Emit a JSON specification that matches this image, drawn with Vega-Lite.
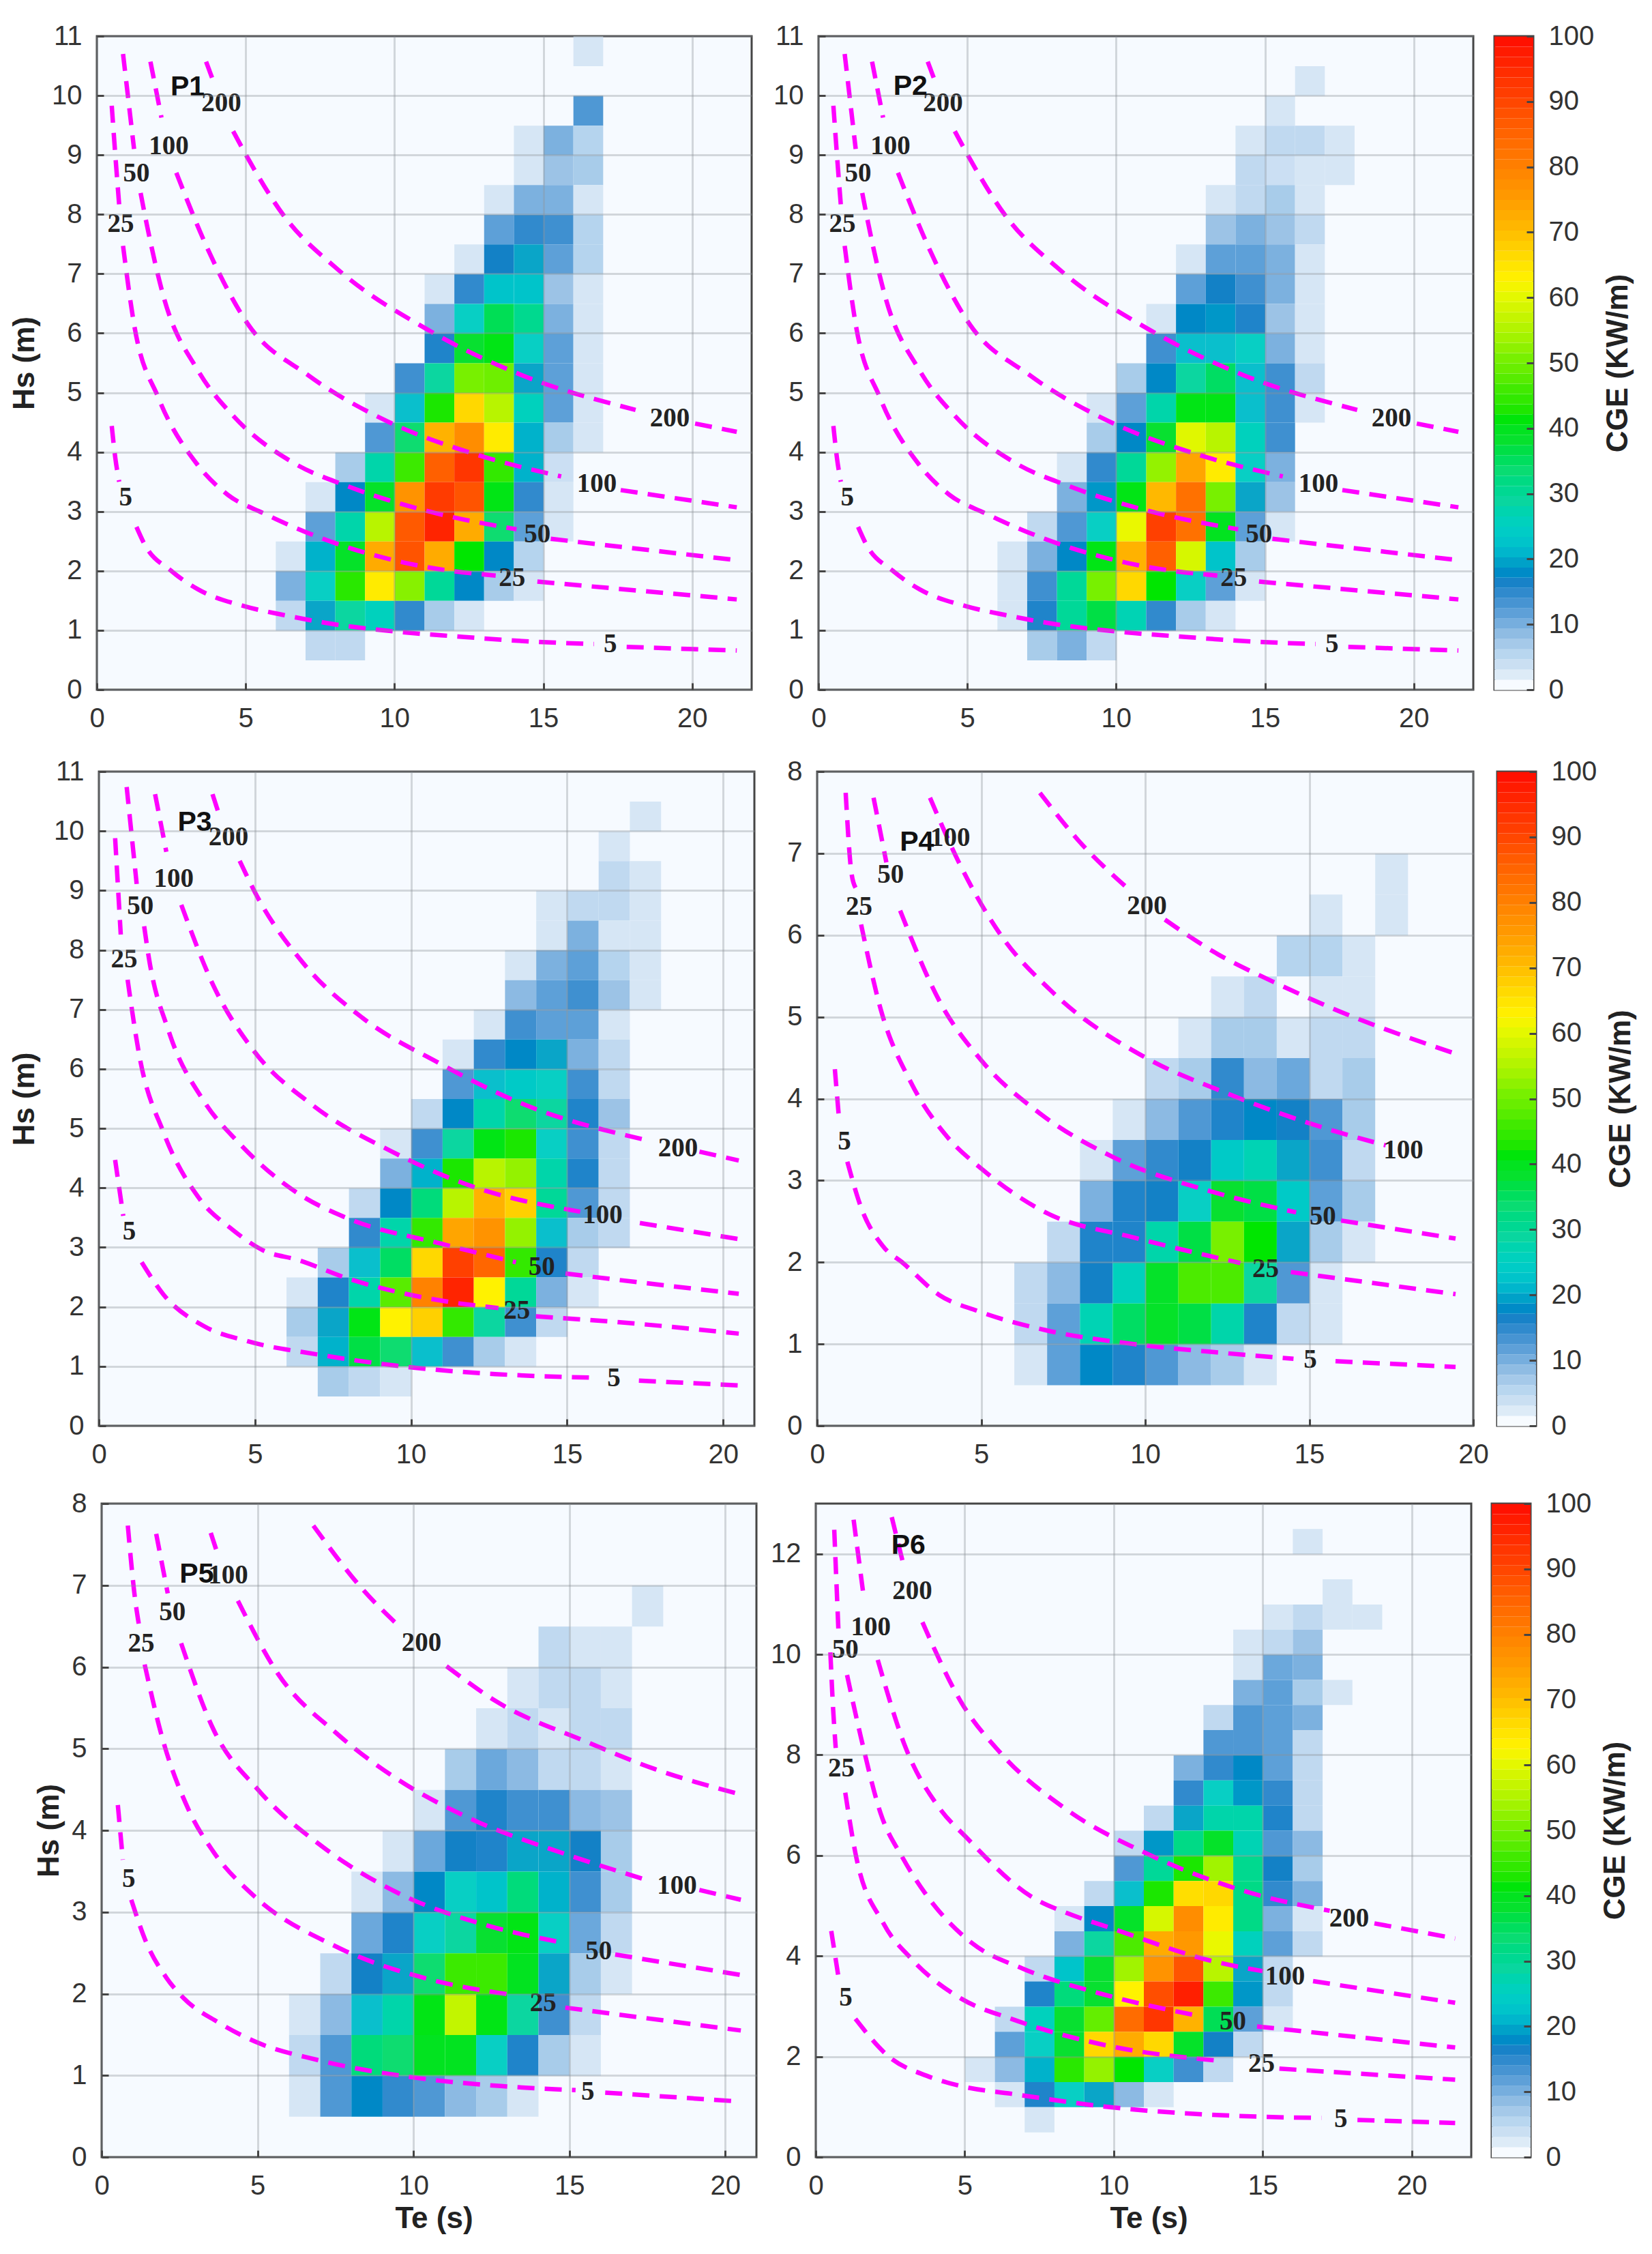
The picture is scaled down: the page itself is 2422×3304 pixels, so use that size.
{
"$schema":"https://vega.github.io/schema/vega-lite/v6.json",
"background":"white",
"padding":{"left":0,"top":31,"right":0,"bottom":0},
"config":{
"font":"Liberation Sans",
"view":{"stroke":"#454545","strokeWidth":3,"fill":"#f6faff"},
"axis":{"labelFont":"Liberation Sans","labelFontSize":40,"labelColor":"#333333","labelPadding":32,"labelOverlap":false,"labelFlush":false,"labelBound":false,"titleFont":"Liberation Sans","titleFontSize":44,"titleFontWeight":"bold","titleColor":"#222222","titlePadding":12,"tickSize":-10,"tickWidth":3,"tickColor":"#454545","domain":false,"grid":true,"gridColor":"#8d9399","gridOpacity":0.35,"gridWidth":3,"format":"d"},
"line":{"color":"#ff00ff","strokeWidth":6.5,"strokeDash":[25,15],"interpolate":"monotone"},
"text":{"font":"Liberation Serif","fontWeight":"bold","fontSize":39,"color":"#222222"}
},
"datasets":{
"p1":[{"te":16,"hs":10.5,"v":2},{"te":16,"hs":9.5,"v":12},{"te":14,"hs":9,"v":2},{"te":15,"hs":9,"v":9},{"te":16,"hs":9,"v":5},{"te":14,"hs":8.5,"v":2},{"te":15,"hs":8.5,"v":7},{"te":16,"hs":8.5,"v":6},{"te":13,"hs":8,"v":2},{"te":14,"hs":8,"v":9},{"te":15,"hs":8,"v":9},{"te":16,"hs":8,"v":2},{"te":13,"hs":7.5,"v":11},{"te":14,"hs":7.5,"v":14},{"te":15,"hs":7.5,"v":13},{"te":16,"hs":7.5,"v":5},{"te":12,"hs":7,"v":2},{"te":13,"hs":7,"v":16},{"te":14,"hs":7,"v":19},{"te":15,"hs":7,"v":11},{"te":16,"hs":7,"v":5},{"te":11,"hs":6.5,"v":2},{"te":12,"hs":6.5,"v":14},{"te":13,"hs":6.5,"v":22},{"te":14,"hs":6.5,"v":22},{"te":15,"hs":6.5,"v":7},{"te":16,"hs":6.5,"v":2},{"te":11,"hs":6,"v":9},{"te":12,"hs":6,"v":24},{"te":13,"hs":6,"v":35},{"te":14,"hs":6,"v":30},{"te":15,"hs":6,"v":9},{"te":16,"hs":6,"v":2},{"te":11,"hs":5.5,"v":15},{"te":12,"hs":5.5,"v":37},{"te":13,"hs":5.5,"v":40},{"te":14,"hs":5.5,"v":24},{"te":15,"hs":5.5,"v":11},{"te":16,"hs":5.5,"v":2},{"te":10,"hs":5,"v":13},{"te":11,"hs":5,"v":28},{"te":12,"hs":5,"v":50},{"te":13,"hs":5,"v":49},{"te":14,"hs":5,"v":19},{"te":15,"hs":5,"v":11},{"te":16,"hs":5,"v":2},{"te":9,"hs":4.5,"v":2},{"te":10,"hs":4.5,"v":21},{"te":11,"hs":4.5,"v":42},{"te":12,"hs":4.5,"v":66},{"te":13,"hs":4.5,"v":55},{"te":14,"hs":4.5,"v":25},{"te":15,"hs":4.5,"v":11},{"te":16,"hs":4.5,"v":2},{"te":9,"hs":4,"v":12},{"te":10,"hs":4,"v":33},{"te":11,"hs":4,"v":71},{"te":12,"hs":4,"v":77},{"te":13,"hs":4,"v":63},{"te":14,"hs":4,"v":20},{"te":15,"hs":4,"v":6},{"te":16,"hs":4,"v":2},{"te":8,"hs":3.5,"v":6},{"te":9,"hs":3.5,"v":27},{"te":10,"hs":3.5,"v":45},{"te":11,"hs":3.5,"v":85},{"te":12,"hs":3.5,"v":92},{"te":13,"hs":3.5,"v":44},{"te":14,"hs":3.5,"v":20},{"te":15,"hs":3.5,"v":3},{"te":7,"hs":3,"v":2},{"te":8,"hs":3,"v":17},{"te":9,"hs":3,"v":38},{"te":10,"hs":3,"v":76},{"te":11,"hs":3,"v":91},{"te":12,"hs":3,"v":87},{"te":13,"hs":3,"v":40},{"te":14,"hs":3,"v":14},{"te":15,"hs":3,"v":2},{"te":7,"hs":2.5,"v":11},{"te":8,"hs":2.5,"v":27},{"te":9,"hs":2.5,"v":55},{"te":10,"hs":2.5,"v":86},{"te":11,"hs":2.5,"v":95},{"te":12,"hs":2.5,"v":72},{"te":13,"hs":2.5,"v":33},{"te":14,"hs":2.5,"v":11},{"te":15,"hs":2.5,"v":2},{"te":6,"hs":2,"v":2},{"te":7,"hs":2,"v":20},{"te":8,"hs":2,"v":38},{"te":9,"hs":2,"v":72},{"te":10,"hs":2,"v":87},{"te":11,"hs":2,"v":72},{"te":12,"hs":2,"v":41},{"te":13,"hs":2,"v":17},{"te":14,"hs":2,"v":5},{"te":6,"hs":1.5,"v":9},{"te":7,"hs":1.5,"v":24},{"te":8,"hs":1.5,"v":43},{"te":9,"hs":1.5,"v":63},{"te":10,"hs":1.5,"v":51},{"te":11,"hs":1.5,"v":29},{"te":12,"hs":1.5,"v":17},{"te":13,"hs":1.5,"v":6},{"te":14,"hs":1.5,"v":2},{"te":6,"hs":1,"v":4},{"te":7,"hs":1,"v":19},{"te":8,"hs":1,"v":28},{"te":9,"hs":1,"v":25},{"te":10,"hs":1,"v":14},{"te":11,"hs":1,"v":6},{"te":12,"hs":1,"v":2},{"te":7,"hs":0.5,"v":4},{"te":8,"hs":0.5,"v":4}],
"p2":[{"te":16,"hs":10,"v":2},{"te":15,"hs":9.5,"v":2},{"te":14,"hs":9,"v":2},{"te":15,"hs":9,"v":4},{"te":16,"hs":9,"v":4},{"te":17,"hs":9,"v":2},{"te":14,"hs":8.5,"v":4},{"te":15,"hs":8.5,"v":3},{"te":16,"hs":8.5,"v":2},{"te":17,"hs":8.5,"v":2},{"te":13,"hs":8,"v":2},{"te":14,"hs":8,"v":4},{"te":15,"hs":8,"v":6},{"te":16,"hs":8,"v":2},{"te":13,"hs":7.5,"v":7},{"te":14,"hs":7.5,"v":9},{"te":15,"hs":7.5,"v":7},{"te":16,"hs":7.5,"v":4},{"te":12,"hs":7,"v":2},{"te":13,"hs":7,"v":11},{"te":14,"hs":7,"v":11},{"te":15,"hs":7,"v":9},{"te":16,"hs":7,"v":2},{"te":12,"hs":6.5,"v":11},{"te":13,"hs":6.5,"v":16},{"te":14,"hs":6.5,"v":13},{"te":15,"hs":6.5,"v":9},{"te":16,"hs":6.5,"v":2},{"te":11,"hs":6,"v":2},{"te":12,"hs":6,"v":17},{"te":13,"hs":6,"v":18},{"te":14,"hs":6,"v":15},{"te":15,"hs":6,"v":7},{"te":16,"hs":6,"v":2},{"te":11,"hs":5.5,"v":13},{"te":12,"hs":5.5,"v":21},{"te":13,"hs":5.5,"v":21},{"te":14,"hs":5.5,"v":24},{"te":15,"hs":5.5,"v":9},{"te":16,"hs":5.5,"v":2},{"te":10,"hs":5,"v":6},{"te":11,"hs":5,"v":17},{"te":12,"hs":5,"v":28},{"te":13,"hs":5,"v":34},{"te":14,"hs":5,"v":21},{"te":15,"hs":5,"v":13},{"te":16,"hs":5,"v":4},{"te":9,"hs":4.5,"v":2},{"te":10,"hs":4.5,"v":11},{"te":11,"hs":4.5,"v":27},{"te":12,"hs":4.5,"v":40},{"te":13,"hs":4.5,"v":40},{"te":14,"hs":4.5,"v":21},{"te":15,"hs":4.5,"v":13},{"te":16,"hs":4.5,"v":2},{"te":9,"hs":4,"v":6},{"te":10,"hs":4,"v":17},{"te":11,"hs":4,"v":37},{"te":12,"hs":4,"v":59},{"te":13,"hs":4,"v":55},{"te":14,"hs":4,"v":25},{"te":15,"hs":4,"v":13},{"te":8,"hs":3.5,"v":2},{"te":9,"hs":3.5,"v":14},{"te":10,"hs":3.5,"v":29},{"te":11,"hs":3.5,"v":52},{"te":12,"hs":3.5,"v":73},{"te":13,"hs":3.5,"v":63},{"te":14,"hs":3.5,"v":24},{"te":15,"hs":3.5,"v":9},{"te":8,"hs":3,"v":9},{"te":9,"hs":3,"v":18},{"te":10,"hs":3,"v":40},{"te":11,"hs":3,"v":70},{"te":12,"hs":3,"v":82},{"te":13,"hs":3,"v":50},{"te":14,"hs":3,"v":19},{"te":15,"hs":3,"v":7},{"te":7,"hs":2.5,"v":4},{"te":8,"hs":2.5,"v":12},{"te":9,"hs":2.5,"v":24},{"te":10,"hs":2.5,"v":60},{"te":11,"hs":2.5,"v":90},{"te":12,"hs":2.5,"v":82},{"te":13,"hs":2.5,"v":39},{"te":14,"hs":2.5,"v":11},{"te":15,"hs":2.5,"v":2},{"te":6,"hs":2,"v":2},{"te":7,"hs":2,"v":9},{"te":8,"hs":2,"v":17},{"te":9,"hs":2,"v":40},{"te":10,"hs":2,"v":71},{"te":11,"hs":2,"v":85},{"te":12,"hs":2,"v":58},{"te":13,"hs":2,"v":22},{"te":14,"hs":2,"v":6},{"te":6,"hs":1.5,"v":2},{"te":7,"hs":1.5,"v":13},{"te":8,"hs":1.5,"v":29},{"te":9,"hs":1.5,"v":50},{"te":10,"hs":1.5,"v":66},{"te":11,"hs":1.5,"v":41},{"te":12,"hs":1.5,"v":24},{"te":13,"hs":1.5,"v":11},{"te":14,"hs":1.5,"v":2},{"te":6,"hs":1,"v":2},{"te":7,"hs":1,"v":15},{"te":8,"hs":1,"v":29},{"te":9,"hs":1,"v":36},{"te":10,"hs":1,"v":26},{"te":11,"hs":1,"v":14},{"te":12,"hs":1,"v":6},{"te":13,"hs":1,"v":2},{"te":7,"hs":0.5,"v":6},{"te":8,"hs":0.5,"v":9},{"te":9,"hs":0.5,"v":4}],
"p3":[{"te":17,"hs":10,"v":2},{"te":16,"hs":9.5,"v":2},{"te":16,"hs":9,"v":4},{"te":17,"hs":9,"v":2},{"te":14,"hs":8.5,"v":2},{"te":15,"hs":8.5,"v":4},{"te":16,"hs":8.5,"v":4},{"te":17,"hs":8.5,"v":2},{"te":14,"hs":8,"v":2},{"te":15,"hs":8,"v":9},{"te":16,"hs":8,"v":2},{"te":17,"hs":8,"v":2},{"te":13,"hs":7.5,"v":2},{"te":14,"hs":7.5,"v":9},{"te":15,"hs":7.5,"v":11},{"te":16,"hs":7.5,"v":5},{"te":17,"hs":7.5,"v":2},{"te":13,"hs":7,"v":8},{"te":14,"hs":7,"v":11},{"te":15,"hs":7,"v":13},{"te":16,"hs":7,"v":7},{"te":17,"hs":7,"v":2},{"te":12,"hs":6.5,"v":2},{"te":13,"hs":6.5,"v":13},{"te":14,"hs":6.5,"v":11},{"te":15,"hs":6.5,"v":11},{"te":16,"hs":6.5,"v":2},{"te":11,"hs":6,"v":2},{"te":12,"hs":6,"v":14},{"te":13,"hs":6,"v":17},{"te":14,"hs":6,"v":19},{"te":15,"hs":6,"v":9},{"te":16,"hs":6,"v":4},{"te":11,"hs":5.5,"v":12},{"te":12,"hs":5.5,"v":21},{"te":13,"hs":5.5,"v":23},{"te":14,"hs":5.5,"v":24},{"te":15,"hs":5.5,"v":13},{"te":16,"hs":5.5,"v":4},{"te":10,"hs":5,"v":4},{"te":11,"hs":5,"v":17},{"te":12,"hs":5,"v":27},{"te":13,"hs":5,"v":33},{"te":14,"hs":5,"v":28},{"te":15,"hs":5,"v":15},{"te":16,"hs":5,"v":7},{"te":9,"hs":4.5,"v":2},{"te":10,"hs":4.5,"v":13},{"te":11,"hs":4.5,"v":28},{"te":12,"hs":4.5,"v":40},{"te":13,"hs":4.5,"v":42},{"te":14,"hs":4.5,"v":24},{"te":15,"hs":4.5,"v":13},{"te":16,"hs":4.5,"v":4},{"te":9,"hs":4,"v":9},{"te":10,"hs":4,"v":20},{"te":11,"hs":4,"v":42},{"te":12,"hs":4,"v":55},{"te":13,"hs":4,"v":52},{"te":14,"hs":4,"v":27},{"te":15,"hs":4,"v":15},{"te":16,"hs":4,"v":4},{"te":8,"hs":3.5,"v":4},{"te":9,"hs":3.5,"v":17},{"te":10,"hs":3.5,"v":32},{"te":11,"hs":3.5,"v":55},{"te":12,"hs":3.5,"v":71},{"te":13,"hs":3.5,"v":67},{"te":14,"hs":3.5,"v":29},{"te":15,"hs":3.5,"v":12},{"te":16,"hs":3.5,"v":4},{"te":8,"hs":3,"v":14},{"te":9,"hs":3,"v":27},{"te":10,"hs":3,"v":44},{"te":11,"hs":3,"v":73},{"te":12,"hs":3,"v":76},{"te":13,"hs":3,"v":52},{"te":14,"hs":3,"v":21},{"te":15,"hs":3,"v":6},{"te":16,"hs":3,"v":4},{"te":7,"hs":2.5,"v":6},{"te":8,"hs":2.5,"v":21},{"te":9,"hs":2.5,"v":34},{"te":10,"hs":2.5,"v":66},{"te":11,"hs":2.5,"v":90},{"te":12,"hs":2.5,"v":84},{"te":13,"hs":2.5,"v":44},{"te":14,"hs":2.5,"v":15},{"te":15,"hs":2.5,"v":4},{"te":6,"hs":2,"v":2},{"te":7,"hs":2,"v":15},{"te":8,"hs":2,"v":27},{"te":9,"hs":2,"v":47},{"te":10,"hs":2,"v":79},{"te":11,"hs":2,"v":95},{"te":12,"hs":2,"v":62},{"te":13,"hs":2,"v":29},{"te":14,"hs":2,"v":9},{"te":15,"hs":2,"v":2},{"te":6,"hs":1.5,"v":6},{"te":7,"hs":1.5,"v":19},{"te":8,"hs":1.5,"v":40},{"te":9,"hs":1.5,"v":62},{"te":10,"hs":1.5,"v":67},{"te":11,"hs":1.5,"v":44},{"te":12,"hs":1.5,"v":28},{"te":13,"hs":1.5,"v":13},{"te":14,"hs":1.5,"v":4},{"te":6,"hs":1,"v":4},{"te":7,"hs":1,"v":20},{"te":8,"hs":1,"v":36},{"te":9,"hs":1,"v":33},{"te":10,"hs":1,"v":21},{"te":11,"hs":1,"v":13},{"te":12,"hs":1,"v":6},{"te":13,"hs":1,"v":2},{"te":7,"hs":0.5,"v":6},{"te":8,"hs":0.5,"v":4},{"te":9,"hs":0.5,"v":2}],
"p4":[{"te":17,"hs":6.5,"v":2},{"te":15,"hs":6,"v":2},{"te":17,"hs":6,"v":2},{"te":14,"hs":5.5,"v":5},{"te":15,"hs":5.5,"v":5},{"te":16,"hs":5.5,"v":2},{"te":12,"hs":5,"v":2},{"te":13,"hs":5,"v":4},{"te":15,"hs":5,"v":2},{"te":16,"hs":5,"v":2},{"te":11,"hs":4.5,"v":2},{"te":12,"hs":4.5,"v":6},{"te":13,"hs":4.5,"v":6},{"te":14,"hs":4.5,"v":2},{"te":15,"hs":4.5,"v":4},{"te":16,"hs":4.5,"v":4},{"te":10,"hs":4,"v":4},{"te":11,"hs":4,"v":6},{"te":12,"hs":4,"v":14},{"te":13,"hs":4,"v":8},{"te":14,"hs":4,"v":10},{"te":15,"hs":4,"v":4},{"te":16,"hs":4,"v":6},{"te":9,"hs":3.5,"v":2},{"te":10,"hs":3.5,"v":8},{"te":11,"hs":3.5,"v":12},{"te":12,"hs":3.5,"v":15},{"te":13,"hs":3.5,"v":17},{"te":14,"hs":3.5,"v":16},{"te":15,"hs":3.5,"v":12},{"te":16,"hs":3.5,"v":6},{"te":8,"hs":3,"v":2},{"te":9,"hs":3,"v":11},{"te":10,"hs":3,"v":14},{"te":11,"hs":3,"v":16},{"te":12,"hs":3,"v":23},{"te":13,"hs":3,"v":26},{"te":14,"hs":3,"v":19},{"te":15,"hs":3,"v":13},{"te":16,"hs":3,"v":4},{"te":8,"hs":2.5,"v":9},{"te":9,"hs":2.5,"v":15},{"te":10,"hs":2.5,"v":16},{"te":11,"hs":2.5,"v":24},{"te":12,"hs":2.5,"v":37},{"te":13,"hs":2.5,"v":36},{"te":14,"hs":2.5,"v":23},{"te":15,"hs":2.5,"v":11},{"te":16,"hs":2.5,"v":6},{"te":7,"hs":2,"v":4},{"te":8,"hs":2,"v":15},{"te":9,"hs":2,"v":15},{"te":10,"hs":2,"v":27},{"te":11,"hs":2,"v":36},{"te":12,"hs":2,"v":50},{"te":13,"hs":2,"v":41},{"te":14,"hs":2,"v":19},{"te":15,"hs":2,"v":6},{"te":16,"hs":2,"v":2},{"te":6,"hs":1.5,"v":4},{"te":7,"hs":1.5,"v":8},{"te":8,"hs":1.5,"v":16},{"te":9,"hs":1.5,"v":25},{"te":10,"hs":1.5,"v":38},{"te":11,"hs":1.5,"v":46},{"te":12,"hs":1.5,"v":46},{"te":13,"hs":1.5,"v":28},{"te":14,"hs":1.5,"v":12},{"te":15,"hs":1.5,"v":2},{"te":6,"hs":1,"v":4},{"te":7,"hs":1,"v":11},{"te":8,"hs":1,"v":26},{"te":9,"hs":1,"v":34},{"te":10,"hs":1,"v":38},{"te":11,"hs":1,"v":36},{"te":12,"hs":1,"v":27},{"te":13,"hs":1,"v":15},{"te":14,"hs":1,"v":4},{"te":15,"hs":1,"v":2},{"te":6,"hs":0.5,"v":2},{"te":7,"hs":0.5,"v":11},{"te":8,"hs":0.5,"v":17},{"te":9,"hs":0.5,"v":15},{"te":10,"hs":0.5,"v":12},{"te":11,"hs":0.5,"v":8},{"te":12,"hs":0.5,"v":6},{"te":13,"hs":0.5,"v":2}],
"p5":[{"te":17,"hs":6.5,"v":2},{"te":14,"hs":6,"v":4},{"te":15,"hs":6,"v":2},{"te":16,"hs":6,"v":2},{"te":13,"hs":5.5,"v":2},{"te":14,"hs":5.5,"v":4},{"te":15,"hs":5.5,"v":4},{"te":16,"hs":5.5,"v":2},{"te":12,"hs":5,"v":2},{"te":13,"hs":5,"v":4},{"te":14,"hs":5,"v":2},{"te":15,"hs":5,"v":4},{"te":16,"hs":5,"v":4},{"te":11,"hs":4.5,"v":6},{"te":12,"hs":4.5,"v":10},{"te":13,"hs":4.5,"v":8},{"te":14,"hs":4.5,"v":4},{"te":15,"hs":4.5,"v":4},{"te":16,"hs":4.5,"v":2},{"te":10,"hs":4,"v":2},{"te":11,"hs":4,"v":12},{"te":12,"hs":4,"v":15},{"te":13,"hs":4,"v":13},{"te":14,"hs":4,"v":13},{"te":15,"hs":4,"v":8},{"te":16,"hs":4,"v":7},{"te":9,"hs":3.5,"v":2},{"te":10,"hs":3.5,"v":10},{"te":11,"hs":3.5,"v":16},{"te":12,"hs":3.5,"v":15},{"te":13,"hs":3.5,"v":19},{"te":14,"hs":3.5,"v":19},{"te":15,"hs":3.5,"v":16},{"te":16,"hs":3.5,"v":6},{"te":8,"hs":3,"v":2},{"te":9,"hs":3,"v":8},{"te":10,"hs":3,"v":17},{"te":11,"hs":3,"v":24},{"te":12,"hs":3,"v":22},{"te":13,"hs":3,"v":32},{"te":14,"hs":3,"v":20},{"te":15,"hs":3,"v":13},{"te":16,"hs":3,"v":6},{"te":8,"hs":2.5,"v":10},{"te":9,"hs":2.5,"v":15},{"te":10,"hs":2.5,"v":24},{"te":11,"hs":2.5,"v":28},{"te":12,"hs":2.5,"v":37},{"te":13,"hs":2.5,"v":40},{"te":14,"hs":2.5,"v":24},{"te":15,"hs":2.5,"v":10},{"te":16,"hs":2.5,"v":4},{"te":7,"hs":2,"v":4},{"te":8,"hs":2,"v":16},{"te":9,"hs":2,"v":19},{"te":10,"hs":2,"v":33},{"te":11,"hs":2,"v":45},{"te":12,"hs":2,"v":45},{"te":13,"hs":2,"v":39},{"te":14,"hs":2,"v":19},{"te":15,"hs":2,"v":6},{"te":16,"hs":2,"v":2},{"te":6,"hs":1.5,"v":2},{"te":7,"hs":1.5,"v":8},{"te":8,"hs":1.5,"v":21},{"te":9,"hs":1.5,"v":27},{"te":10,"hs":1.5,"v":40},{"te":11,"hs":1.5,"v":56},{"te":12,"hs":1.5,"v":40},{"te":13,"hs":1.5,"v":28},{"te":14,"hs":1.5,"v":13},{"te":15,"hs":1.5,"v":4},{"te":6,"hs":1,"v":4},{"te":7,"hs":1,"v":12},{"te":8,"hs":1,"v":32},{"te":9,"hs":1,"v":33},{"te":10,"hs":1,"v":39},{"te":11,"hs":1,"v":39},{"te":12,"hs":1,"v":24},{"te":13,"hs":1,"v":15},{"te":14,"hs":1,"v":6},{"te":15,"hs":1,"v":2},{"te":6,"hs":0.5,"v":2},{"te":7,"hs":0.5,"v":12},{"te":8,"hs":0.5,"v":17},{"te":9,"hs":0.5,"v":14},{"te":10,"hs":0.5,"v":12},{"te":11,"hs":0.5,"v":8},{"te":12,"hs":0.5,"v":6},{"te":13,"hs":0.5,"v":2}],
"p6":[{"te":16,"hs":12,"v":2},{"te":17,"hs":11,"v":2},{"te":15,"hs":10.5,"v":2},{"te":16,"hs":10.5,"v":4},{"te":17,"hs":10.5,"v":2},{"te":18,"hs":10.5,"v":2},{"te":14,"hs":10,"v":2},{"te":15,"hs":10,"v":4},{"te":16,"hs":10,"v":7},{"te":14,"hs":9.5,"v":2},{"te":15,"hs":9.5,"v":10},{"te":16,"hs":9.5,"v":9},{"te":14,"hs":9,"v":9},{"te":15,"hs":9,"v":11},{"te":16,"hs":9,"v":6},{"te":17,"hs":9,"v":2},{"te":13,"hs":8.5,"v":4},{"te":14,"hs":8.5,"v":12},{"te":15,"hs":8.5,"v":11},{"te":16,"hs":8.5,"v":9},{"te":13,"hs":8,"v":12},{"te":14,"hs":8,"v":12},{"te":15,"hs":8,"v":11},{"te":16,"hs":8,"v":4},{"te":12,"hs":7.5,"v":9},{"te":13,"hs":7.5,"v":14},{"te":14,"hs":7.5,"v":17},{"te":15,"hs":7.5,"v":11},{"te":16,"hs":7.5,"v":4},{"te":12,"hs":7,"v":14},{"te":13,"hs":7,"v":24},{"te":14,"hs":7,"v":18},{"te":15,"hs":7,"v":14},{"te":16,"hs":7,"v":4},{"te":11,"hs":6.5,"v":4},{"te":12,"hs":6.5,"v":19},{"te":13,"hs":6.5,"v":27},{"te":14,"hs":6.5,"v":27},{"te":15,"hs":6.5,"v":15},{"te":16,"hs":6.5,"v":4},{"te":10,"hs":6,"v":4},{"te":11,"hs":6,"v":18},{"te":12,"hs":6,"v":31},{"te":13,"hs":6,"v":38},{"te":14,"hs":6,"v":26},{"te":15,"hs":6,"v":12},{"te":16,"hs":6,"v":8},{"te":10,"hs":5.5,"v":12},{"te":11,"hs":5.5,"v":29},{"te":12,"hs":5.5,"v":42},{"te":13,"hs":5.5,"v":53},{"te":14,"hs":5.5,"v":30},{"te":15,"hs":5.5,"v":16},{"te":16,"hs":5.5,"v":6},{"te":9,"hs":5,"v":4},{"te":10,"hs":5,"v":21},{"te":11,"hs":5,"v":42},{"te":12,"hs":5,"v":65},{"te":13,"hs":5,"v":66},{"te":14,"hs":5,"v":31},{"te":15,"hs":5,"v":14},{"te":16,"hs":5,"v":9},{"te":8,"hs":4.5,"v":2},{"te":9,"hs":4.5,"v":17},{"te":10,"hs":4.5,"v":38},{"te":11,"hs":4.5,"v":58},{"te":12,"hs":4.5,"v":77},{"te":13,"hs":4.5,"v":63},{"te":14,"hs":4.5,"v":31},{"te":15,"hs":4.5,"v":9},{"te":16,"hs":4.5,"v":2},{"te":8,"hs":4,"v":9},{"te":9,"hs":4,"v":28},{"te":10,"hs":4,"v":46},{"te":11,"hs":4,"v":72},{"te":12,"hs":4,"v":75},{"te":13,"hs":4,"v":60},{"te":14,"hs":4,"v":25},{"te":15,"hs":4,"v":11},{"te":16,"hs":4,"v":4},{"te":7,"hs":3.5,"v":4},{"te":8,"hs":3.5,"v":22},{"te":9,"hs":3.5,"v":37},{"te":10,"hs":3.5,"v":53},{"te":11,"hs":3.5,"v":76},{"te":12,"hs":3.5,"v":87},{"te":13,"hs":3.5,"v":55},{"te":14,"hs":3.5,"v":19},{"te":15,"hs":3.5,"v":4},{"te":7,"hs":3,"v":15},{"te":8,"hs":3,"v":32},{"te":9,"hs":3,"v":37},{"te":10,"hs":3,"v":62},{"te":11,"hs":3,"v":88},{"te":12,"hs":3,"v":96},{"te":13,"hs":3,"v":45},{"te":14,"hs":3,"v":18},{"te":15,"hs":3,"v":4},{"te":6,"hs":2.5,"v":4},{"te":7,"hs":2.5,"v":25},{"te":8,"hs":2.5,"v":37},{"te":9,"hs":2.5,"v":48},{"te":10,"hs":2.5,"v":83},{"te":11,"hs":2.5,"v":92},{"te":12,"hs":2.5,"v":71},{"te":13,"hs":2.5,"v":35},{"te":14,"hs":2.5,"v":11},{"te":15,"hs":2.5,"v":2},{"te":6,"hs":2,"v":11},{"te":7,"hs":2,"v":24},{"te":8,"hs":2,"v":37},{"te":9,"hs":2,"v":66},{"te":10,"hs":2,"v":72},{"te":11,"hs":2,"v":66},{"te":12,"hs":2,"v":38},{"te":13,"hs":2,"v":16},{"te":14,"hs":2,"v":4},{"te":5,"hs":1.5,"v":2},{"te":6,"hs":1.5,"v":8},{"te":7,"hs":1.5,"v":20},{"te":8,"hs":1.5,"v":43},{"te":9,"hs":1.5,"v":52},{"te":10,"hs":1.5,"v":41},{"te":11,"hs":1.5,"v":24},{"te":12,"hs":1.5,"v":13},{"te":13,"hs":1.5,"v":4},{"te":6,"hs":1,"v":2},{"te":7,"hs":1,"v":15},{"te":8,"hs":1,"v":24},{"te":9,"hs":1,"v":19},{"te":10,"hs":1,"v":8},{"te":11,"hs":1,"v":2},{"te":7,"hs":0.5,"v":2}],
"cb":[{"v":0},{"v":1.5625},{"v":3.125},{"v":4.6875},{"v":6.25},{"v":7.8125},{"v":9.375},{"v":10.9375},{"v":12.5},{"v":14.0625},{"v":15.625},{"v":17.1875},{"v":18.75},{"v":20.3125},{"v":21.875},{"v":23.4375},{"v":25},{"v":26.5625},{"v":28.125},{"v":29.6875},{"v":31.25},{"v":32.8125},{"v":34.375},{"v":35.9375},{"v":37.5},{"v":39.0625},{"v":40.625},{"v":42.1875},{"v":43.75},{"v":45.3125},{"v":46.875},{"v":48.4375},{"v":50},{"v":51.5625},{"v":53.125},{"v":54.6875},{"v":56.25},{"v":57.8125},{"v":59.375},{"v":60.9375},{"v":62.5},{"v":64.0625},{"v":65.625},{"v":67.1875},{"v":68.75},{"v":70.3125},{"v":71.875},{"v":73.4375},{"v":75},{"v":76.5625},{"v":78.125},{"v":79.6875},{"v":81.25},{"v":82.8125},{"v":84.375},{"v":85.9375},{"v":87.5},{"v":89.0625},{"v":90.625},{"v":92.1875},{"v":93.75},{"v":95.3125},{"v":96.875},{"v":98.4375}],
"c12":[{"c":"5a","te":0.5,"hs":4.44},{"c":"5a","te":0.62,"hs":3.9},{"c":"5a","te":0.75,"hs":3.5},{"c":"5b","te":1.33,"hs":2.74},{"c":"5b","te":1.6,"hs":2.45},{"c":"5b","te":2.5,"hs":2},{"c":"5b","te":3.4,"hs":1.69},{"c":"5b","te":5,"hs":1.4},{"c":"5b","te":6.25,"hs":1.26},{"c":"5b","te":8,"hs":1.1},{"c":"5b","te":10,"hs":0.98},{"c":"5b","te":12,"hs":0.9},{"c":"5b","te":15,"hs":0.8},{"c":"5b","te":16.7,"hs":0.77},{"c":"5c","te":17.8,"hs":0.72},{"c":"5c","te":21.5,"hs":0.66},
{"c":"25a","te":0.5,"hs":9.83},{"c":"25a","te":0.62,"hs":9},{"c":"25a","te":0.75,"hs":8.16},{"c":"25b","te":0.88,"hs":7.47},{"c":"25b","te":1.25,"hs":6.15},{"c":"25b","te":2.08,"hs":4.9},{"c":"25b","te":3.33,"hs":3.82},{"c":"25b","te":4.4,"hs":3.28},{"c":"25b","te":5.6,"hs":2.97},{"c":"25b","te":7.6,"hs":2.54},{"c":"25b","te":10.9,"hs":2.08},{"c":"25b","te":13.4,"hs":1.92},{"c":"25c","te":14.8,"hs":1.82},{"c":"25c","te":21.5,"hs":1.52},
{"c":"50a","te":0.88,"hs":10.7},{"c":"50a","te":1.25,"hs":9.1},{"c":"50b","te":1.47,"hs":8.36},{"c":"50b","te":1.67,"hs":7.85},{"c":"50b","te":2.25,"hs":6.6},{"c":"50b","te":3.4,"hs":5.37},{"c":"50b","te":4.6,"hs":4.6},{"c":"50b","te":6.6,"hs":3.82},{"c":"50b","te":8.4,"hs":3.43},{"c":"50b","te":11.4,"hs":2.97},{"c":"50b","te":14.1,"hs":2.7},{"c":"50c","te":15.25,"hs":2.54},{"c":"50c","te":21.5,"hs":2.18},
{"c":"100a","te":1.8,"hs":10.57},{"c":"100a","te":2.17,"hs":9.63},{"c":"100b","te":2.67,"hs":8.7},{"c":"100b","te":3.75,"hs":7.39},{"c":"100b","te":5.08,"hs":6.15},{"c":"100b","te":7.08,"hs":5.3},{"c":"100b","te":9.75,"hs":4.52},{"c":"100b","te":12.6,"hs":3.98},{"c":"100b","te":15.6,"hs":3.59},{"c":"100c","te":17.6,"hs":3.36},{"c":"100c","te":21.5,"hs":3.07},
{"c":"200a","te":3.67,"hs":10.57},{"c":"200a","te":3.9,"hs":10.26},{"c":"200b","te":4.58,"hs":9.4},{"c":"200b","te":5.08,"hs":8.94},{"c":"200b","te":6.25,"hs":8},{"c":"200b","te":8.08,"hs":7.08},{"c":"200b","te":11.08,"hs":6.07},{"c":"200b","te":14.25,"hs":5.3},{"c":"200b","te":18.1,"hs":4.71},{"c":"200c","te":20.1,"hs":4.48},{"c":"200c","te":21.5,"hs":4.34}],
"c3":[{"c":"5a","te":0.52,"hs":4.47},{"c":"5a","te":0.78,"hs":3.53},{"c":"5b","te":1.37,"hs":2.75},{"c":"5b","te":2.08,"hs":2.2},{"c":"5b","te":3.35,"hs":1.68},{"c":"5b","te":4.78,"hs":1.42},{"c":"5b","te":7,"hs":1.2},{"c":"5b","te":9.87,"hs":0.99},{"c":"5b","te":12.7,"hs":0.87},{"c":"5b","te":15.74,"hs":0.81},{"c":"5c","te":17.3,"hs":0.76},{"c":"5c","te":20.5,"hs":0.68},
{"c":"25a","te":0.52,"hs":9.88},{"c":"25a","te":0.7,"hs":8.26},{"c":"25b","te":0.92,"hs":7.5},{"c":"25b","te":1.29,"hs":6.24},{"c":"25b","te":2.08,"hs":4.92},{"c":"25b","te":3.19,"hs":3.84},{"c":"25b","te":4.3,"hs":3.29},{"c":"25b","te":5.26,"hs":2.95},{"c":"25b","te":6.37,"hs":2.79},{"c":"25b","te":7.96,"hs":2.48},{"c":"25b","te":11.14,"hs":2.09},{"c":"25b","te":12.8,"hs":1.98},{"c":"25c","te":14,"hs":1.84},{"c":"25c","te":16.7,"hs":1.74},{"c":"25c","te":20.5,"hs":1.55},
{"c":"50a","te":0.89,"hs":10.74},{"c":"50a","te":1.21,"hs":9.11},{"c":"50b","te":1.45,"hs":8.4},{"c":"50b","te":1.6,"hs":7.87},{"c":"50b","te":2.24,"hs":6.63},{"c":"50b","te":3.35,"hs":5.47},{"c":"50b","te":4.46,"hs":4.77},{"c":"50b","te":6.37,"hs":3.91},{"c":"50b","te":7.96,"hs":3.49},{"c":"50b","te":10.98,"hs":3.06},{"c":"50b","te":13.36,"hs":2.75},{"c":"50c","te":14.95,"hs":2.56},{"c":"50c","te":17.5,"hs":2.4},{"c":"50c","te":20.5,"hs":2.22},
{"c":"100a","te":1.8,"hs":10.62},{"c":"100a","te":2.16,"hs":9.65},{"c":"100b","te":2.64,"hs":8.76},{"c":"100b","te":3.67,"hs":7.4},{"c":"100b","te":4.94,"hs":6.32},{"c":"100b","te":6.85,"hs":5.39},{"c":"100b","te":9.39,"hs":4.61},{"c":"100b","te":11.93,"hs":4.03},{"c":"100b","te":15.42,"hs":3.6},{"c":"100c","te":17.33,"hs":3.41},{"c":"100c","te":20.5,"hs":3.14},
{"c":"200a","te":3.64,"hs":10.62},{"c":"200a","te":3.83,"hs":10.31},{"c":"200b","te":4.51,"hs":9.5},{"c":"200b","te":5.02,"hs":8.95},{"c":"200b","te":6.53,"hs":7.79},{"c":"200b","te":8.44,"hs":6.86},{"c":"200b","te":10.82,"hs":6.12},{"c":"200b","te":13.68,"hs":5.39},{"c":"200b","te":17.49,"hs":4.81},{"c":"200c","te":19.24,"hs":4.61},{"c":"200c","te":20.5,"hs":4.46}],
"c4":[{"c":"5a","te":0.54,"hs":4.36},{"c":"5a","te":0.66,"hs":3.79},{"c":"5b","te":0.92,"hs":3.23},{"c":"5b","te":1.34,"hs":2.67},{"c":"5b","te":2.02,"hs":2.19},{"c":"5b","te":2.62,"hs":1.99},{"c":"5b","te":3.72,"hs":1.6},{"c":"5b","te":4.92,"hs":1.4},{"c":"5b","te":6.96,"hs":1.17},{"c":"5b","te":9.85,"hs":0.99},{"c":"5b","te":12.4,"hs":0.89},{"c":"5b","te":14.52,"hs":0.82},{"c":"5c","te":15.8,"hs":0.79},{"c":"5c","te":19.46,"hs":0.72},
{"c":"25a","te":0.87,"hs":7.74},{"c":"25a","te":1.04,"hs":6.78},{"c":"25a","te":1.17,"hs":6.58},{"c":"25b","te":1.34,"hs":6.13},{"c":"25b","te":1.94,"hs":5.09},{"c":"25b","te":2.87,"hs":4.19},{"c":"25b","te":3.89,"hs":3.57},{"c":"25b","te":5.08,"hs":3.12},{"c":"25b","te":6.96,"hs":2.61},{"c":"25b","te":9.68,"hs":2.3},{"c":"25b","te":12.9,"hs":1.99},{"c":"25c","te":14.44,"hs":1.88},{"c":"25c","te":19.46,"hs":1.61},
{"c":"50a","te":1.72,"hs":7.68},{"c":"50a","te":2.11,"hs":6.89},{"c":"50b","te":2.53,"hs":6.3},{"c":"50b","te":3.72,"hs":5.2},{"c":"50b","te":5,"hs":4.47},{"c":"50b","te":6.79,"hs":3.82},{"c":"50b","te":9,"hs":3.29},{"c":"50b","te":12.06,"hs":2.86},{"c":"50b","te":14.6,"hs":2.61},{"c":"50c","te":15.97,"hs":2.51},{"c":"50c","te":19.46,"hs":2.29},
{"c":"100b","te":3.44,"hs":7.68},{"c":"100b","te":4.32,"hs":6.89},{"c":"100b","te":5.6,"hs":6},{"c":"100b","te":7.13,"hs":5.32},{"c":"100b","te":10.02,"hs":4.5},{"c":"100b","te":12.4,"hs":4.08},{"c":"100b","te":15.8,"hs":3.6},{"c":"100b","te":17.33,"hs":3.43},{"c":"100c","te":19.46,"hs":3.23},
{"c":"200a","te":6.79,"hs":7.74},{"c":"200a","te":7.98,"hs":7.15},{"c":"200a","te":9.5,"hs":6.56},{"c":"200b","te":10.6,"hs":6.19},{"c":"200b","te":12.2,"hs":5.77},{"c":"200b","te":13.9,"hs":5.43},{"c":"200b","te":15.97,"hs":5.06},{"c":"200b","te":19.46,"hs":4.55}],
"c5":[{"c":"5a","te":0.52,"hs":4.31},{"c":"5a","te":0.68,"hs":3.64},{"c":"5b","te":0.95,"hs":3.15},{"c":"5b","te":1.43,"hs":2.63},{"c":"5b","te":2.07,"hs":2.2},{"c":"5b","te":2.62,"hs":1.95},{"c":"5b","te":3.74,"hs":1.65},{"c":"5b","te":5.01,"hs":1.4},{"c":"5b","te":6.92,"hs":1.19},{"c":"5b","te":10.1,"hs":0.97},{"c":"5b","te":12.8,"hs":0.87},{"c":"5b","te":15.2,"hs":0.82},{"c":"5c","te":16.15,"hs":0.79},{"c":"5c","te":20.5,"hs":0.68},
{"c":"25a","te":0.84,"hs":7.73},{"c":"25a","te":1.07,"hs":6.84},{"c":"25a","te":1.19,"hs":6.53},{"c":"25b","te":1.38,"hs":6.03},{"c":"25b","te":1.91,"hs":5.18},{"c":"25b","te":2.78,"hs":4.26},{"c":"25b","te":3.58,"hs":3.74},{"c":"25b","te":4.85,"hs":3.21},{"c":"25b","te":7.56,"hs":2.57},{"c":"25b","te":10.58,"hs":2.17},{"c":"25b","te":13.28,"hs":1.98},{"c":"25c","te":14.87,"hs":1.83},{"c":"25c","te":20.5,"hs":1.55},
{"c":"50a","te":1.75,"hs":7.63},{"c":"50a","te":2.12,"hs":6.9},{"c":"50b","te":2.55,"hs":6.29},{"c":"50b","te":3.58,"hs":5.24},{"c":"50b","te":5.01,"hs":4.5},{"c":"50b","te":7.08,"hs":3.8},{"c":"50b","te":9.47,"hs":3.24},{"c":"50b","te":12.33,"hs":2.84},{"c":"50b","te":14.72,"hs":2.63},{"c":"50c","te":16.47,"hs":2.48},{"c":"50c","te":20.5,"hs":2.23},
{"c":"100a","te":3.5,"hs":7.64},{"c":"100a","te":3.74,"hs":7.36},{"c":"100b","te":4.37,"hs":6.81},{"c":"100b","te":5.65,"hs":5.92},{"c":"100b","te":7.56,"hs":5.18},{"c":"100b","te":9.47,"hs":4.63},{"c":"100b","te":11.85,"hs":4.14},{"c":"100b","te":14.87,"hs":3.71},{"c":"100b","te":17.42,"hs":3.4},{"c":"100c","te":19.17,"hs":3.27},{"c":"100c","te":20.5,"hs":3.15},
{"c":"200a","te":6.79,"hs":7.73},{"c":"200a","te":8.35,"hs":6.96},{"c":"200a","te":9.62,"hs":6.47},{"c":"200b","te":11.06,"hs":6.01},{"c":"200b","te":12.65,"hs":5.58},{"c":"200b","te":15.51,"hs":5.09},{"c":"200b","te":17.74,"hs":4.75},{"c":"200b","te":20.5,"hs":4.44}],
"c6":[{"c":"5a","te":0.52,"hs":4.5},{"c":"5a","te":0.77,"hs":3.55},{"c":"5b","te":1.33,"hs":2.75},{"c":"5b","te":2.45,"hs":2},{"c":"5b","te":3.76,"hs":1.61},{"c":"5b","te":4.89,"hs":1.41},{"c":"5b","te":6.57,"hs":1.26},{"c":"5b","te":9.94,"hs":0.99},{"c":"5b","te":14.6,"hs":0.81},{"c":"5b","te":16.97,"hs":0.78},{"c":"5c","te":18.18,"hs":0.74},{"c":"5c","te":21.46,"hs":0.68},
{"c":"25a","te":0.49,"hs":10.04},{"c":"25a","te":0.58,"hs":8.94},{"c":"25a","te":0.67,"hs":8.14},{"c":"25b","te":0.99,"hs":7.25},{"c":"25b","te":1.33,"hs":6.05},{"c":"25b","te":2.27,"hs":4.65},{"c":"25b","te":3.2,"hs":3.95},{"c":"25b","te":4.89,"hs":3.15},{"c":"25b","te":6.57,"hs":2.75},{"c":"25b","te":9.94,"hs":2.2},{"c":"25b","te":13.69,"hs":1.91},{"c":"25c","te":15.56,"hs":1.76},{"c":"25c","te":21.46,"hs":1.54},
{"c":"50a","te":0.62,"hs":12.48},{"c":"50a","te":0.77,"hs":10.34},{"c":"50b","te":1.05,"hs":9.59},{"c":"50b","te":1.52,"hs":8.34},{"c":"50b","te":2.17,"hs":6.85},{"c":"50b","te":2.92,"hs":5.95},{"c":"50b","te":3.67,"hs":5.25},{"c":"50b","te":5.26,"hs":4.25},{"c":"50b","te":6.95,"hs":3.75},{"c":"50b","te":9.57,"hs":3.25},{"c":"50b","te":12.94,"hs":2.8},{"c":"50c","te":14.81,"hs":2.6},{"c":"50c","te":21.46,"hs":2.18},
{"c":"100a","te":1.27,"hs":12.68},{"c":"100a","te":1.61,"hs":11.14},{"c":"100b","te":2.08,"hs":9.89},{"c":"100b","te":3.02,"hs":8.14},{"c":"100b","te":4.14,"hs":6.95},{"c":"100b","te":5.07,"hs":6.35},{"c":"100b","te":7.32,"hs":5.15},{"c":"100b","te":8.45,"hs":4.85},{"c":"100b","te":9.94,"hs":4.55},{"c":"100b","te":13.31,"hs":3.9},{"c":"100b","te":15,"hs":3.7},{"c":"100c","te":16.69,"hs":3.5},{"c":"100c","te":21.46,"hs":3.07},
{"c":"200a","te":2.55,"hs":12.73},{"c":"200a","te":2.92,"hs":11.84},{"c":"200b","te":3.58,"hs":10.64},{"c":"200b","te":4.89,"hs":9.04},{"c":"200b","te":6.2,"hs":8.04},{"c":"200b","te":8.45,"hs":6.9},{"c":"200b","te":11.07,"hs":6.05},{"c":"200b","te":14.63,"hs":5.25},{"c":"200b","te":17.25,"hs":4.9},{"c":"200c","te":18.75,"hs":4.65},{"c":"200c","te":21.46,"hs":4.35}],
"l12":[{"te":4.18,"hs":9.87,"t":"200"},{"te":2.42,"hs":9.15,"t":"100"},{"te":1.33,"hs":8.69,"t":"50"},{"te":0.8,"hs":7.84,"t":"25"},{"te":0.97,"hs":3.24,"t":"5"},{"te":19.25,"hs":4.57,"t":"200"},{"te":16.8,"hs":3.47,"t":"100"},{"te":14.8,"hs":2.62,"t":"50"},{"te":13.95,"hs":1.88,"t":"25"},{"te":17.25,"hs":0.77,"t":"5"}],
"l3":[{"te":4.15,"hs":9.9,"t":"200"},{"te":2.4,"hs":9.2,"t":"100"},{"te":1.33,"hs":8.74,"t":"50"},{"te":0.81,"hs":7.85,"t":"25"},{"te":0.97,"hs":3.27,"t":"5"},{"te":18.55,"hs":4.67,"t":"200"},{"te":16.14,"hs":3.54,"t":"100"},{"te":14.19,"hs":2.67,"t":"50"},{"te":13.39,"hs":1.94,"t":"25"},{"te":16.5,"hs":0.8,"t":"5"}],
"l4":[{"te":4.06,"hs":7.19,"t":"100"},{"te":2.24,"hs":6.74,"t":"50"},{"te":1.28,"hs":6.35,"t":"25"},{"te":0.83,"hs":3.48,"t":"5"},{"te":10.05,"hs":6.36,"t":"200"},{"te":17.87,"hs":3.37,"t":"100"},{"te":15.41,"hs":2.56,"t":"50"},{"te":13.67,"hs":1.92,"t":"25"},{"te":15.03,"hs":0.81,"t":"5"}],
"l5":[{"te":4.06,"hs":7.12,"t":"100"},{"te":2.27,"hs":6.67,"t":"50"},{"te":1.27,"hs":6.29,"t":"25"},{"te":0.87,"hs":3.41,"t":"5"},{"te":10.26,"hs":6.3,"t":"200"},{"te":18.45,"hs":3.32,"t":"100"},{"te":15.94,"hs":2.52,"t":"50"},{"te":14.16,"hs":1.89,"t":"25"},{"te":15.59,"hs":0.8,"t":"5"}],
"l6":[{"te":3.24,"hs":11.26,"t":"200"},{"te":1.85,"hs":10.54,"t":"100"},{"te":0.99,"hs":10.09,"t":"50"},{"te":0.86,"hs":7.74,"t":"25"},{"te":1.01,"hs":3.18,"t":"5"},{"te":17.9,"hs":4.75,"t":"200"},{"te":15.75,"hs":3.6,"t":"100"},{"te":14,"hs":2.7,"t":"50"},{"te":14.96,"hs":1.86,"t":"25"},{"te":17.62,"hs":0.76,"t":"5"}],
"sp":[{"a":1}]
},
"spacing":28,
"vconcat":[
{"spacing":34,"vconcat":[
{"spacing":0,"bounds":"flush","hconcat":[
{"width":142,"height":958,"view":{"stroke":null,"fill":null},"data":{"name":"sp"},"mark":{"type":"rect","opacity":0},"encoding":{}},
{"width":960,"height":958,"layer":[
{"data":{"name":"p1"},"mark":"rect","encoding":{"x":{"field":"te","type":"quantitative","bin":{"step":1,"extent":[0,22]},"scale":{"domain":[0,22],"nice":false},"axis":{"values":[0,5,10,15,20],"title":null,"zindex":1}},"y":{"field":"hs","type":"quantitative","bin":{"step":0.5,"extent":[0,11]},"scale":{"domain":[0,11],"nice":false},"axis":{"values":[0,1,2,3,4,5,6,7,8,9,10,11],"title":"Hs (m)","titlePadding":17,"zindex":1}},"color":{"field":"v","type":"quantitative","legend":null,"scale":{"domain":[0,2,4,5,7,10,13,15,16.5,19,21,24,28,33,37,41,45,50,55,60,62,66,70,75,80,85,90,95,100],"range":["#f7fbff","#d6e6f5","#c0d9f0","#b5d4ee","#9cc3e6","#6ba8dc","#3f90d0","#1f84ca","#0b80c4","#0aa5c8","#0abfcc","#08cfc4","#0cd6a0","#0edc70","#08e030","#00e600","#3cea00","#78f000","#b8f400","#eaf800","#fff200","#ffd800","#ffb800","#ff9800","#ff7c00","#ff6000","#ff4000","#ff2400","#ff0000"]}}}},
{"data":{"name":"c12"},"mark":{"type":"line"},"encoding":{"x":{"field":"te","type":"quantitative","scale":{"domain":[0,22],"nice":false}},"y":{"field":"hs","type":"quantitative","scale":{"domain":[0,11],"nice":false}},"detail":{"field":"c"}}},
{"data":{"name":"l12"},"mark":{"type":"text"},"encoding":{"x":{"field":"te","type":"quantitative","scale":{"domain":[0,22],"nice":false}},"y":{"field":"hs","type":"quantitative","scale":{"domain":[0,11],"nice":false}},"text":{"field":"t"}}},
{"data":{"values":[{"te":3.05,"hs":10.14,"t":"P1"}]},"mark":{"type":"text","font":"Liberation Sans","fontSize":41,"color":"#111111"},"encoding":{"x":{"field":"te","type":"quantitative","scale":{"domain":[0,22],"nice":false}},"y":{"field":"hs","type":"quantitative","scale":{"domain":[0,11],"nice":false}},"text":{"field":"t"}}}
]},
{"width":98,"height":958,"view":{"stroke":null,"fill":null},"data":{"name":"sp"},"mark":{"type":"rect","opacity":0},"encoding":{}},
{"width":960,"height":958,"layer":[
{"data":{"name":"p2"},"mark":"rect","encoding":{"x":{"field":"te","type":"quantitative","bin":{"step":1,"extent":[0,22]},"scale":{"domain":[0,22],"nice":false},"axis":{"values":[0,5,10,15,20],"title":null,"zindex":1}},"y":{"field":"hs","type":"quantitative","bin":{"step":0.5,"extent":[0,11]},"scale":{"domain":[0,11],"nice":false},"axis":{"values":[0,1,2,3,4,5,6,7,8,9,10,11],"title":null,"zindex":1}},"color":{"field":"v","type":"quantitative","legend":null,"scale":{"domain":[0,2,4,5,7,10,13,15,16.5,19,21,24,28,33,37,41,45,50,55,60,62,66,70,75,80,85,90,95,100],"range":["#f7fbff","#d6e6f5","#c0d9f0","#b5d4ee","#9cc3e6","#6ba8dc","#3f90d0","#1f84ca","#0b80c4","#0aa5c8","#0abfcc","#08cfc4","#0cd6a0","#0edc70","#08e030","#00e600","#3cea00","#78f000","#b8f400","#eaf800","#fff200","#ffd800","#ffb800","#ff9800","#ff7c00","#ff6000","#ff4000","#ff2400","#ff0000"]}}}},
{"data":{"name":"c12"},"mark":{"type":"line"},"encoding":{"x":{"field":"te","type":"quantitative","scale":{"domain":[0,22],"nice":false}},"y":{"field":"hs","type":"quantitative","scale":{"domain":[0,11],"nice":false}},"detail":{"field":"c"}}},
{"data":{"name":"l12"},"mark":{"type":"text"},"encoding":{"x":{"field":"te","type":"quantitative","scale":{"domain":[0,22],"nice":false}},"y":{"field":"hs","type":"quantitative","scale":{"domain":[0,11],"nice":false}},"text":{"field":"t"}}},
{"data":{"values":[{"te":3.09,"hs":10.15,"t":"P2"}]},"mark":{"type":"text","font":"Liberation Sans","fontSize":41,"color":"#111111"},"encoding":{"x":{"field":"te","type":"quantitative","scale":{"domain":[0,22],"nice":false}},"y":{"field":"hs","type":"quantitative","scale":{"domain":[0,11],"nice":false}},"text":{"field":"t"}}}
]},
{"width":31,"height":958,"view":{"stroke":null,"fill":null},"data":{"name":"sp"},"mark":{"type":"rect","opacity":0},"encoding":{}},
{"width":57,"height":958,"data":{"name":"cb"},"mark":"rect","encoding":{"y":{"field":"v","type":"quantitative","bin":{"step":1.5625,"extent":[0,100]},"scale":{"domain":[0,100],"nice":false},"axis":{"orient":"right","values":[0,10,20,30,40,50,60,70,80,90,100],"title":"CGE (KW/m)","titleAngle":270,"titlePadding":58,"grid":false,"zindex":1}},"color":{"field":"v","type":"quantitative","legend":null,"scale":{"domain":[0,2,4,5,7,10,13,15,16.5,19,21,24,28,33,37,41,45,50,55,60,62,66,70,75,80,85,90,95,100],"range":["#f7fbff","#d6e6f5","#c0d9f0","#b5d4ee","#9cc3e6","#6ba8dc","#3f90d0","#1f84ca","#0b80c4","#0aa5c8","#0abfcc","#08cfc4","#0cd6a0","#0edc70","#08e030","#00e600","#3cea00","#78f000","#b8f400","#eaf800","#fff200","#ffd800","#ffb800","#ff9800","#ff7c00","#ff6000","#ff4000","#ff2400","#ff0000"]}}}}
]},
{"spacing":0,"bounds":"flush","hconcat":[
{"width":145,"height":959,"view":{"stroke":null,"fill":null},"data":{"name":"sp"},"mark":{"type":"rect","opacity":0},"encoding":{}},
{"width":961,"height":959,"layer":[
{"data":{"name":"p3"},"mark":"rect","encoding":{"x":{"field":"te","type":"quantitative","bin":{"step":1,"extent":[0,21]},"scale":{"domain":[0,21],"nice":false},"axis":{"values":[0,5,10,15,20],"title":null,"zindex":1}},"y":{"field":"hs","type":"quantitative","bin":{"step":0.5,"extent":[0,11]},"scale":{"domain":[0,11],"nice":false},"axis":{"values":[0,1,2,3,4,5,6,7,8,9,10,11],"title":"Hs (m)","titlePadding":20,"zindex":1}},"color":{"field":"v","type":"quantitative","legend":null,"scale":{"domain":[0,2,4,5,7,10,13,15,16.5,19,21,24,28,33,37,41,45,50,55,60,62,66,70,75,80,85,90,95,100],"range":["#f7fbff","#d6e6f5","#c0d9f0","#b5d4ee","#9cc3e6","#6ba8dc","#3f90d0","#1f84ca","#0b80c4","#0aa5c8","#0abfcc","#08cfc4","#0cd6a0","#0edc70","#08e030","#00e600","#3cea00","#78f000","#b8f400","#eaf800","#fff200","#ffd800","#ffb800","#ff9800","#ff7c00","#ff6000","#ff4000","#ff2400","#ff0000"]}}}},
{"data":{"name":"c3"},"mark":{"type":"line"},"encoding":{"x":{"field":"te","type":"quantitative","scale":{"domain":[0,21],"nice":false}},"y":{"field":"hs","type":"quantitative","scale":{"domain":[0,11],"nice":false}},"detail":{"field":"c"}}},
{"data":{"name":"l3"},"mark":{"type":"text"},"encoding":{"x":{"field":"te","type":"quantitative","scale":{"domain":[0,21],"nice":false}},"y":{"field":"hs","type":"quantitative","scale":{"domain":[0,11],"nice":false}},"text":{"field":"t"}}},
{"data":{"values":[{"te":3.07,"hs":10.14,"t":"P3"}]},"mark":{"type":"text","font":"Liberation Sans","fontSize":41,"color":"#111111"},"encoding":{"x":{"field":"te","type":"quantitative","scale":{"domain":[0,21],"nice":false}},"y":{"field":"hs","type":"quantitative","scale":{"domain":[0,11],"nice":false}},"text":{"field":"t"}}}
]},
{"width":92,"height":959,"view":{"stroke":null,"fill":null},"data":{"name":"sp"},"mark":{"type":"rect","opacity":0},"encoding":{}},
{"width":962,"height":959,"layer":[
{"data":{"name":"p4"},"mark":"rect","encoding":{"x":{"field":"te","type":"quantitative","bin":{"step":1,"extent":[0,20]},"scale":{"domain":[0,20],"nice":false},"axis":{"values":[0,5,10,15,20],"title":null,"zindex":1}},"y":{"field":"hs","type":"quantitative","bin":{"step":0.5,"extent":[0,8]},"scale":{"domain":[0,8],"nice":false},"axis":{"values":[0,1,2,3,4,5,6,7,8],"title":null,"zindex":1}},"color":{"field":"v","type":"quantitative","legend":null,"scale":{"domain":[0,2,4,5,7,10,13,15,16.5,19,21,24,28,33,37,41,45,50,55,60,62,66,70,75,80,85,90,95,100],"range":["#f7fbff","#d6e6f5","#c0d9f0","#b5d4ee","#9cc3e6","#6ba8dc","#3f90d0","#1f84ca","#0b80c4","#0aa5c8","#0abfcc","#08cfc4","#0cd6a0","#0edc70","#08e030","#00e600","#3cea00","#78f000","#b8f400","#eaf800","#fff200","#ffd800","#ffb800","#ff9800","#ff7c00","#ff6000","#ff4000","#ff2400","#ff0000"]}}}},
{"data":{"name":"c4"},"mark":{"type":"line"},"encoding":{"x":{"field":"te","type":"quantitative","scale":{"domain":[0,20],"nice":false}},"y":{"field":"hs","type":"quantitative","scale":{"domain":[0,8],"nice":false}},"detail":{"field":"c"}}},
{"data":{"name":"l4"},"mark":{"type":"text"},"encoding":{"x":{"field":"te","type":"quantitative","scale":{"domain":[0,20],"nice":false}},"y":{"field":"hs","type":"quantitative","scale":{"domain":[0,8],"nice":false}},"text":{"field":"t"}}},
{"data":{"values":[{"te":3.04,"hs":7.13,"t":"P4"}]},"mark":{"type":"text","font":"Liberation Sans","fontSize":41,"color":"#111111"},"encoding":{"x":{"field":"te","type":"quantitative","scale":{"domain":[0,20],"nice":false}},"y":{"field":"hs","type":"quantitative","scale":{"domain":[0,8],"nice":false}},"text":{"field":"t"}}}
]},
{"width":35,"height":959,"view":{"stroke":null,"fill":null},"data":{"name":"sp"},"mark":{"type":"rect","opacity":0},"encoding":{}},
{"width":57,"height":959,"data":{"name":"cb"},"mark":"rect","encoding":{"y":{"field":"v","type":"quantitative","bin":{"step":1.5625,"extent":[0,100]},"scale":{"domain":[0,100],"nice":false},"axis":{"orient":"right","values":[0,10,20,30,40,50,60,70,80,90,100],"title":"CGE (KW/m)","titleAngle":270,"titlePadding":58,"grid":false,"zindex":1}},"color":{"field":"v","type":"quantitative","legend":null,"scale":{"domain":[0,2,4,5,7,10,13,15,16.5,19,21,24,28,33,37,41,45,50,55,60,62,66,70,75,80,85,90,95,100],"range":["#f7fbff","#d6e6f5","#c0d9f0","#b5d4ee","#9cc3e6","#6ba8dc","#3f90d0","#1f84ca","#0b80c4","#0aa5c8","#0abfcc","#08cfc4","#0cd6a0","#0edc70","#08e030","#00e600","#3cea00","#78f000","#b8f400","#eaf800","#fff200","#ffd800","#ffb800","#ff9800","#ff7c00","#ff6000","#ff4000","#ff2400","#ff0000"]}}}}
]}
]},
{"spacing":0,"bounds":"flush","hconcat":[
{"width":149,"height":958,"view":{"stroke":null,"fill":null},"data":{"name":"sp"},"mark":{"type":"rect","opacity":0},"encoding":{}},
{"width":960,"height":958,"layer":[
{"data":{"name":"p5"},"mark":"rect","encoding":{"x":{"field":"te","type":"quantitative","bin":{"step":1,"extent":[0,21]},"scale":{"domain":[0,21],"nice":false},"axis":{"values":[0,5,10,15,20],"title":"Te (s)","titleX":487,"titlePadding":6,"zindex":1}},"y":{"field":"hs","type":"quantitative","bin":{"step":0.5,"extent":[0,8]},"scale":{"domain":[0,8],"nice":false},"axis":{"values":[0,1,2,3,4,5,6,7,8],"title":"Hs (m)","titlePadding":10,"zindex":1}},"color":{"field":"v","type":"quantitative","legend":null,"scale":{"domain":[0,2,4,5,7,10,13,15,16.5,19,21,24,28,33,37,41,45,50,55,60,62,66,70,75,80,85,90,95,100],"range":["#f7fbff","#d6e6f5","#c0d9f0","#b5d4ee","#9cc3e6","#6ba8dc","#3f90d0","#1f84ca","#0b80c4","#0aa5c8","#0abfcc","#08cfc4","#0cd6a0","#0edc70","#08e030","#00e600","#3cea00","#78f000","#b8f400","#eaf800","#fff200","#ffd800","#ffb800","#ff9800","#ff7c00","#ff6000","#ff4000","#ff2400","#ff0000"]}}}},
{"data":{"name":"c5"},"mark":{"type":"line"},"encoding":{"x":{"field":"te","type":"quantitative","scale":{"domain":[0,21],"nice":false}},"y":{"field":"hs","type":"quantitative","scale":{"domain":[0,8],"nice":false}},"detail":{"field":"c"}}},
{"data":{"name":"l5"},"mark":{"type":"text"},"encoding":{"x":{"field":"te","type":"quantitative","scale":{"domain":[0,21],"nice":false}},"y":{"field":"hs","type":"quantitative","scale":{"domain":[0,8],"nice":false}},"text":{"field":"t"}}},
{"data":{"values":[{"te":3.05,"hs":7.13,"t":"P5"}]},"mark":{"type":"text","font":"Liberation Sans","fontSize":41,"color":"#111111"},"encoding":{"x":{"field":"te","type":"quantitative","scale":{"domain":[0,21],"nice":false}},"y":{"field":"hs","type":"quantitative","scale":{"domain":[0,8],"nice":false}},"text":{"field":"t"}}}
]},
{"width":87,"height":958,"view":{"stroke":null,"fill":null},"data":{"name":"sp"},"mark":{"type":"rect","opacity":0},"encoding":{}},
{"width":961,"height":958,"layer":[
{"data":{"name":"p6"},"mark":"rect","encoding":{"x":{"field":"te","type":"quantitative","bin":{"step":1,"extent":[0,22]},"scale":{"domain":[0,22],"nice":false},"axis":{"values":[0,5,10,15,20],"title":"Te (s)","titleX":488,"titlePadding":6,"zindex":1}},"y":{"field":"hs","type":"quantitative","bin":{"step":0.5,"extent":[0,13]},"scale":{"domain":[0,13],"nice":false},"axis":{"values":[0,2,4,6,8,10,12],"title":null,"zindex":1}},"color":{"field":"v","type":"quantitative","legend":null,"scale":{"domain":[0,2,4,5,7,10,13,15,16.5,19,21,24,28,33,37,41,45,50,55,60,62,66,70,75,80,85,90,95,100],"range":["#f7fbff","#d6e6f5","#c0d9f0","#b5d4ee","#9cc3e6","#6ba8dc","#3f90d0","#1f84ca","#0b80c4","#0aa5c8","#0abfcc","#08cfc4","#0cd6a0","#0edc70","#08e030","#00e600","#3cea00","#78f000","#b8f400","#eaf800","#fff200","#ffd800","#ffb800","#ff9800","#ff7c00","#ff6000","#ff4000","#ff2400","#ff0000"]}}}},
{"data":{"name":"c6"},"mark":{"type":"line"},"encoding":{"x":{"field":"te","type":"quantitative","scale":{"domain":[0,22],"nice":false}},"y":{"field":"hs","type":"quantitative","scale":{"domain":[0,13],"nice":false}},"detail":{"field":"c"}}},
{"data":{"name":"l6"},"mark":{"type":"text"},"encoding":{"x":{"field":"te","type":"quantitative","scale":{"domain":[0,22],"nice":false}},"y":{"field":"hs","type":"quantitative","scale":{"domain":[0,13],"nice":false}},"text":{"field":"t"}}},
{"data":{"values":[{"te":3.11,"hs":12.16,"t":"P6"}]},"mark":{"type":"text","font":"Liberation Sans","fontSize":41,"color":"#111111"},"encoding":{"x":{"field":"te","type":"quantitative","scale":{"domain":[0,22],"nice":false}},"y":{"field":"hs","type":"quantitative","scale":{"domain":[0,13],"nice":false}},"text":{"field":"t"}}}
]},
{"width":30,"height":958,"view":{"stroke":null,"fill":null},"data":{"name":"sp"},"mark":{"type":"rect","opacity":0},"encoding":{}},
{"width":57,"height":958,"data":{"name":"cb"},"mark":"rect","encoding":{"y":{"field":"v","type":"quantitative","bin":{"step":1.5625,"extent":[0,100]},"scale":{"domain":[0,100],"nice":false},"axis":{"orient":"right","values":[0,10,20,30,40,50,60,70,80,90,100],"title":"CGE (KW/m)","titleAngle":270,"titlePadding":58,"grid":false,"zindex":1}},"color":{"field":"v","type":"quantitative","legend":null,"scale":{"domain":[0,2,4,5,7,10,13,15,16.5,19,21,24,28,33,37,41,45,50,55,60,62,66,70,75,80,85,90,95,100],"range":["#f7fbff","#d6e6f5","#c0d9f0","#b5d4ee","#9cc3e6","#6ba8dc","#3f90d0","#1f84ca","#0b80c4","#0aa5c8","#0abfcc","#08cfc4","#0cd6a0","#0edc70","#08e030","#00e600","#3cea00","#78f000","#b8f400","#eaf800","#fff200","#ffd800","#ffb800","#ff9800","#ff7c00","#ff6000","#ff4000","#ff2400","#ff0000"]}}}}
]}
]
}
